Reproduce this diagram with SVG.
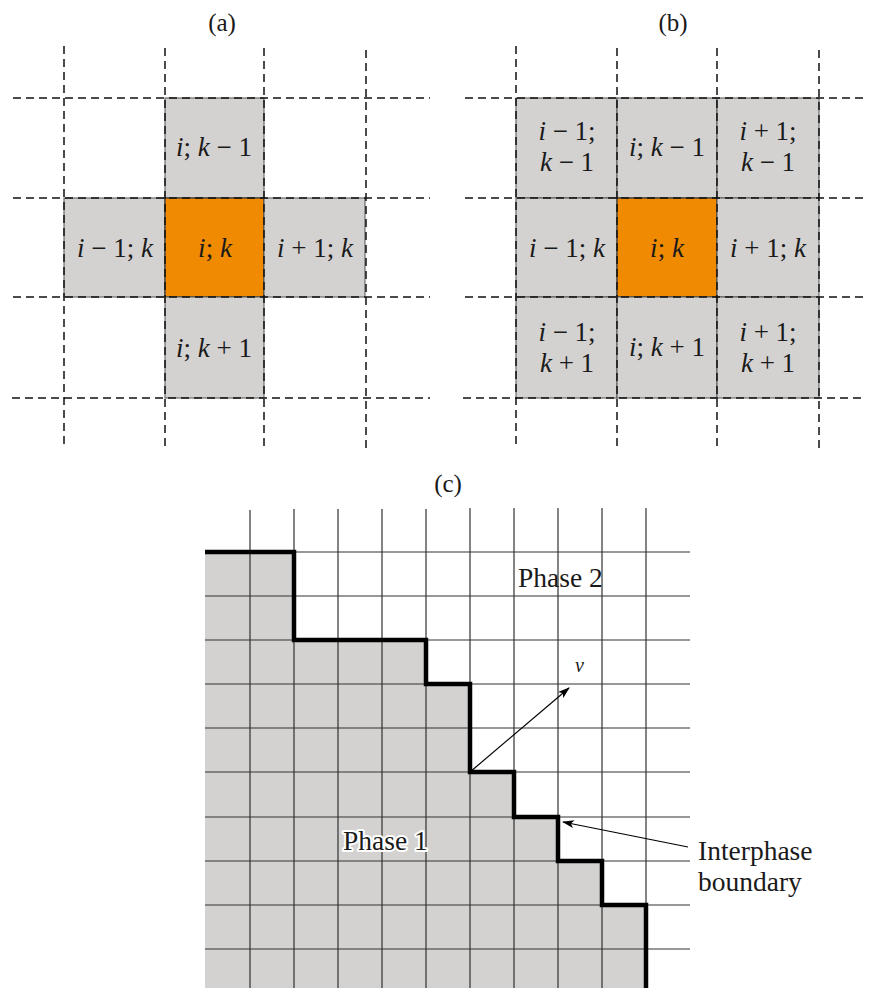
<svg xmlns="http://www.w3.org/2000/svg" width="870" height="988" viewBox="0 0 870 988" font-family="'Liberation Serif', serif">
<style>
text{font-family:'Liberation Serif',serif;fill:#1a1a1a}
.lbl{font-size:25px;text-anchor:middle}
.cl{font-size:27px;text-anchor:middle}
.it{font-style:italic}
.gray{fill:#d3d2d1;stroke:#555;stroke-width:1}
.or{fill:#f08a00;stroke:#333;stroke-width:1.2}
.dash{stroke:#111;stroke-width:1.5;stroke-dasharray:8 5;fill:none}
.grid{stroke:#333;stroke-width:1.2;fill:none}
.thick{stroke:#000;stroke-width:4.5;fill:none;stroke-linejoin:miter}
.arr{stroke:#000;stroke-width:1.2;fill:none;marker-end:url(#ah)}
.txt{font-size:27.5px}
</style>
<defs>
<marker id="ah" viewBox="0 0 12 8" refX="11" refY="4" markerWidth="12" markerHeight="8" markerUnits="userSpaceOnUse" orient="auto">
<path d="M0,0 L12,4 L0,8 L3,4 Z" fill="#000"/>
</marker>
</defs>

<!-- Panel (a) -->
<text class="lbl" x="222" y="31">(a)</text>
<g id="a-top"><rect class="gray" x="165" y="98" width="99" height="100"/><text class="cl" x="214" y="156"><tspan class="it">i</tspan>; <tspan class="it">k</tspan> − 1</text></g>
<g id="a-left"><rect class="gray" x="64" y="198" width="101" height="99"/><text class="cl" x="115" y="257"><tspan class="it">i</tspan> − 1; <tspan class="it">k</tspan></text></g>
<g id="a-center"><rect class="or" x="165" y="198" width="99" height="99"/><text class="cl" x="215" y="257"><tspan class="it">i</tspan>; <tspan class="it">k</tspan></text></g>
<g id="a-right"><rect class="gray" x="264" y="198" width="101" height="99"/><text class="cl" x="315" y="257"><tspan class="it">i</tspan> + 1; <tspan class="it">k</tspan></text></g>
<g id="a-bottom"><rect class="gray" x="165" y="297" width="99" height="101"/><text class="cl" x="214" y="357"><tspan class="it">i</tspan>; <tspan class="it">k</tspan> + 1</text></g>
<g id="a-grid">
<path class="dash" d="M64,46V447M165,48V447M264,48V447M366,50V449"/>
<path class="dash" d="M13,98H430M13,198H430M13,297H430M12,398H430"/>
</g>

<!-- Panel (b) -->
<text class="lbl" x="673" y="31">(b)</text>
<g id="b-tl"><rect class="gray" x="516" y="98" width="101" height="100"/><text class="cl" x="567" y="140"><tspan class="it">i</tspan> − 1;</text><text class="cl" x="567" y="171"><tspan class="it">k</tspan> − 1</text></g>
<g id="b-tc"><rect class="gray" x="617" y="98" width="100" height="100"/><text class="cl" x="667" y="156"><tspan class="it">i</tspan>; <tspan class="it">k</tspan> − 1</text></g>
<g id="b-tr"><rect class="gray" x="717" y="98" width="102" height="100"/><text class="cl" x="768" y="140"><tspan class="it">i</tspan> + 1;</text><text class="cl" x="768" y="171"><tspan class="it">k</tspan> − 1</text></g>
<g id="b-ml"><rect class="gray" x="516" y="198" width="101" height="99"/><text class="cl" x="567" y="257"><tspan class="it">i</tspan> − 1; <tspan class="it">k</tspan></text></g>
<g id="b-mc"><rect class="or" x="617" y="198" width="100" height="99"/><text class="cl" x="667" y="257"><tspan class="it">i</tspan>; <tspan class="it">k</tspan></text></g>
<g id="b-mr"><rect class="gray" x="717" y="198" width="102" height="99"/><text class="cl" x="768" y="257"><tspan class="it">i</tspan> + 1; <tspan class="it">k</tspan></text></g>
<g id="b-bl"><rect class="gray" x="516" y="297" width="101" height="101"/><text class="cl" x="567" y="341"><tspan class="it">i</tspan> − 1;</text><text class="cl" x="567" y="372"><tspan class="it">k</tspan> + 1</text></g>
<g id="b-bc"><rect class="gray" x="617" y="297" width="100" height="101"/><text class="cl" x="667" y="356"><tspan class="it">i</tspan>; <tspan class="it">k</tspan> + 1</text></g>
<g id="b-br"><rect class="gray" x="717" y="297" width="102" height="101"/><text class="cl" x="768" y="341"><tspan class="it">i</tspan> + 1;</text><text class="cl" x="768" y="372"><tspan class="it">k</tspan> + 1</text></g>
<g id="b-grid">
<path class="dash" d="M516,46V447M617,48V447M717,48V447M819,50V449"/>
<path class="dash" d="M465,98H866M465,198H866M465,297H866M463,398H866"/>
</g>

<!-- Panel (c) -->
<text class="lbl" x="448" y="492">(c)</text>
<g id="phase1-region">
<polygon fill="#d3d2d1" points="205,552 294,552 294,640 426,640 426,684 470,684 470,772 514,772 514,817 558,817 558,861 602,861 602,905 646,905 646,988 205,988"/>
</g>
<g id="c-grid">
<path class="grid" d="M250,510V988M294,509V988M338,509V988M382,509V988M426,509V988M470,508V988M514,508V988M558,508V988M602,508V988M646,508V988"/>
<path class="grid" d="M205,552H690M205,596H690M205,640H690M205,684H690M205,728H690M205,772H690M205,817H690M205,861H690M205,905H690M205,949H690"/>
</g>
<g id="boundary">
<polyline class="thick" points="205,552 294,552 294,640 426,640 426,684 470,684 470,772 514,772 514,817 558,817 558,861 602,861 602,905 646,905 646,988"/>
</g>
<g id="phase2"><text class="txt" x="518" y="587">Phase 2</text></g>
<g id="phase1"><text class="txt" x="343" y="850" stroke="#fff" stroke-width="4" paint-order="stroke" stroke-linejoin="round">Phase 1</text></g>
<g id="v-label"><text x="575" y="672" font-size="20" font-style="italic">v</text></g>
<g id="interphase-label"><text class="txt" x="698" y="860" font-size="28">Interphase</text><text class="txt" x="698" y="891" font-size="28">boundary</text></g>
<g id="connectors">
<line class="arr" x1="470" y1="772" x2="569" y2="688"/>
<line class="arr" x1="688" y1="847" x2="563" y2="822"/>
</g>
</svg>
